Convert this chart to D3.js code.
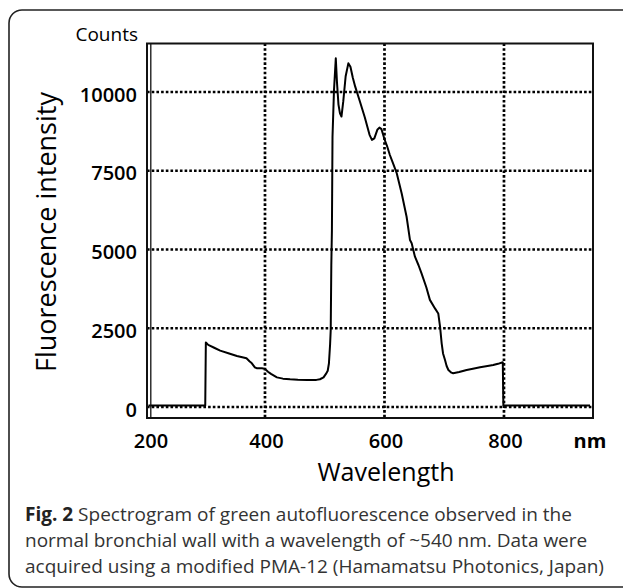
<!DOCTYPE html>
<html>
<head>
<meta charset="utf-8">
<script src="https://cdn.jsdelivr.net/npm/d3@7"></script>
<style>
  html, body { margin: 0; padding: 0; background: #fff; }
  svg { display: block; }
  text { font-family: "Open Sans", "Noto Sans", sans-serif; }
</style>
</head>
<body>
<svg id="chart" width="623" height="588"></svg>
<script>
// ---- data ----
const wavelength = [205, 300, 301, 305, 315, 325, 340, 353, 362, 369, 374, 378, 383, 386, 395, 400, 405, 410, 420, 430, 442, 455, 470, 486, 492, 498, 502, 505, 507, 509, 510, 511, 512, 513, 515.5, 518.5, 520.5, 523, 525.5, 528, 531, 535, 539.5, 543, 547, 551, 559, 567, 575, 579, 583, 588, 591.5, 595, 600, 604, 609, 615, 620.5, 628.8, 637, 642.7, 645.5, 651, 657, 662, 670, 676, 684.5, 690, 693, 695.7, 698, 701.3, 704, 707, 712, 715, 725, 737.5, 750, 760, 770, 782, 790, 798, 799, 944];
const counts = [50, 50, 2050, 1970, 1880, 1790, 1700, 1620, 1580, 1545, 1450, 1385, 1260, 1230, 1230, 1210, 1120, 1050, 940, 900, 880, 865, 857, 860, 880, 940, 1050, 1150, 1380, 2000, 2440, 4500, 5600, 8580, 10060, 11070, 10300, 9600, 9320, 9220, 9700, 10500, 10910, 10800, 10450, 10170, 9690, 9200, 8640, 8480, 8530, 8800, 8870, 8820, 8500, 8300, 8000, 7700, 7420, 6780, 6040, 5300, 5200, 4770, 4500, 4240, 3800, 3400, 3130, 2970, 2550, 2020, 1700, 1490, 1300, 1175, 1090, 1069, 1110, 1175, 1220, 1260, 1290, 1330, 1370, 1420, 50, 50];
const xTicks = [200, 400, 600, 800];
const yTicks = [0, 2500, 5000, 7500, 10000];
const xDomain = [200, 950];
const yDomain = [-350, 11540];
const captionLines = [
  ["Fig. 2", " Spectrogram of green autofluorescence observed in the"],
  ["", "normal bronchial wall with a wavelength of ~540 nm. Data were"],
  ["", "acquired using a modified PMA-12 (Hamamatsu Photonics, Japan)"]
];

const svg = d3.select("#chart");

// outer rounded panel border
svg.append("rect")
  .attr("x", 9).attr("y", 10).attr("width", 640).attr("height", 577)
  .attr("rx", 13).attr("ry", 13)
  .attr("fill", "none").attr("stroke", "#222").attr("stroke-width", 1.6);

const x = d3.scaleLinear().domain(xDomain).range([145.5, 593.6]);
const y = d3.scaleLinear().domain(yDomain).range([418, 43.5]);

const L = 147, R = 593, T = 43.5, B = 418;

// grid
const grid = svg.append("g");
grid.selectAll("line.h").data(yTicks).join("line")
  .attr("x1", L).attr("x2", R)
  .attr("y1", d => y(d)).attr("y2", d => y(d))
  .attr("stroke", "#000").attr("stroke-width", 2.7)
  .attr("stroke-dasharray", "2.6 2.1");
grid.selectAll("line.v").data(xTicks.filter(d => d > 200)).join("line")
  .attr("x1", d => x(d)).attr("x2", d => x(d))
  .attr("y1", T).attr("y2", B)
  .attr("stroke", "#000").attr("stroke-width", 2.7)
  .attr("stroke-dasharray", "2.6 2.1");

// data line
const pts = wavelength.map((w, i) => [w, counts[i]]);
svg.append("path")
  .datum(pts)
  .attr("d", d3.line().x(d => x(d[0])).y(d => y(d[1])))
  .attr("fill", "none").attr("stroke", "#000").attr("stroke-width", 2)
  .attr("stroke-linejoin", "round");

// frame
svg.append("rect")
  .attr("x", L).attr("y", T).attr("width", R - L).attr("height", B - T)
  .attr("fill", "none").attr("stroke", "#111").attr("stroke-width", 2);
svg.append("line")
  .attr("x1", L + 3.8).attr("x2", L + 3.8).attr("y1", T).attr("y2", B)
  .attr("stroke", "#111").attr("stroke-width", 1.3);

// y axis labels
const yAxis = d3.axisLeft(y).tickValues(yTicks).tickSize(0).tickPadding(10)
  .tickFormat(d3.format("d"));
const gy = svg.append("g").attr("transform", `translate(${L},0)`).call(yAxis);
gy.select(".domain").remove();
gy.selectAll("text")
  .attr("dy", "0.46em")
  .style("font-size", "20px").style("font-weight", 600).attr("fill", "#000");

// x axis labels
const xAxis = d3.axisBottom(x).tickValues(xTicks).tickSize(0).tickPadding(0)
  .tickFormat(d3.format("d"));
const gx = svg.append("g").attr("transform", `translate(0,${B})`).call(xAxis);
gx.select(".domain").remove();
gx.selectAll("text")
  .attr("y", 30).attr("dy", 0)
  .attr("dx", d => d === 200 ? 5 : 1)
  .style("font-size", "20px").style("font-weight", 600).attr("fill", "#000");

// unit labels
svg.append("text").attr("x", 138).attr("y", 41).attr("text-anchor", "end")
  .style("font-size", "19px").style("font-weight", 500).text("Counts");
svg.append("text").attr("x", 590).attr("y", 448).attr("text-anchor", "middle")
  .style("font-size", "20px").style("font-weight", 700).text("nm");

// axis titles
svg.append("text")
  .attr("transform", "translate(56,232) rotate(-90)")
  .attr("text-anchor", "middle")
  .style("font-size", "27px").text("Fluorescence intensity");
svg.append("text").attr("x", 386).attr("y", 481).attr("text-anchor", "middle")
  .style("font-size", "25px").text("Wavelength");

// caption
const cap = svg.append("g");
captionLines.forEach((ln, i) => {
  const t = cap.append("text").attr("x", 25).attr("y", 521 + i * 26)
    .style("font-size", "19px").attr("fill", "#333");
  if (ln[0]) t.append("tspan").style("font-weight", 700).attr("fill", "#222").text(ln[0]);
  t.append("tspan").text(ln[1]);
});
</script>
</body>
</html>
